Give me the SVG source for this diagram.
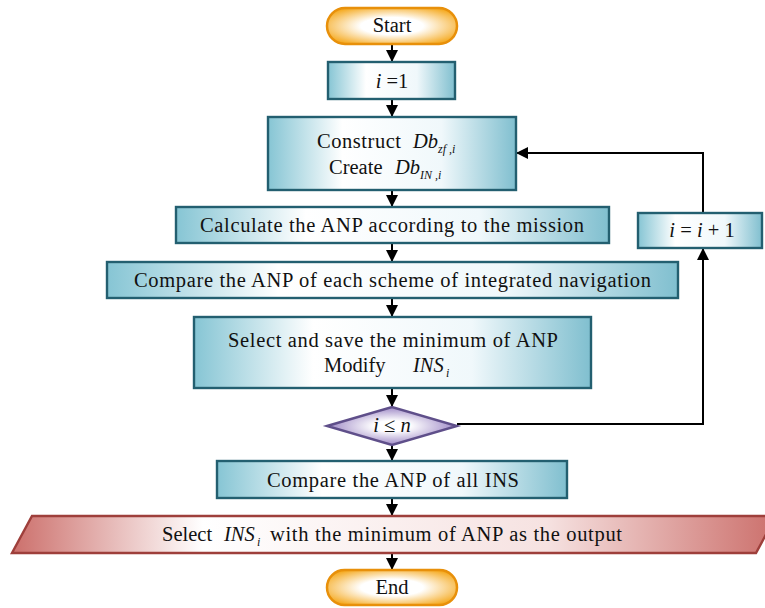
<svg xmlns="http://www.w3.org/2000/svg" width="765" height="608" viewBox="0 0 765 608">
<defs>
<style>
.t{font-family:"Liberation Serif","Times New Roman",serif;font-size:20.5px;fill:#111}
.it{font-style:italic}
.sub{font-size:12px;font-style:italic}
.box{fill:url(#teal);stroke:#235f70;stroke-width:2.4}
.term{fill:url(#orange);stroke:#e8900a;stroke-width:2.5}
.dia{fill:url(#purple);stroke:#5f4f8a;stroke-width:2.4}
.para{fill:url(#red);stroke:#9e3f3b;stroke-width:2.4}
.c{fill:none;stroke:#000;stroke-width:2;marker-end:url(#ah)}
</style>
<linearGradient id="teal" x1="0" y1="0" x2="1" y2="0">
<stop offset="0" stop-color="#86c5d4"/>
<stop offset="0.3" stop-color="#ffffff"/>
<stop offset="0.7" stop-color="#f0f8fb"/>
<stop offset="1" stop-color="#80bfcf"/>
</linearGradient>
<radialGradient id="orange" cx="0.5" cy="0.5" r="0.6">
<stop offset="0.4" stop-color="#ffffff"/>
<stop offset="1" stop-color="#f5a91e"/>
</radialGradient>
<radialGradient id="purple" cx="0.5" cy="0.5" r="0.55">
<stop offset="0.25" stop-color="#ffffff"/>
<stop offset="1" stop-color="#9078be"/>
</radialGradient>
<linearGradient id="red" x1="0" y1="0" x2="1" y2="0">
<stop offset="0" stop-color="#cc6f6b"/>
<stop offset="0.25" stop-color="#ffffff"/>
<stop offset="0.7" stop-color="#f6e2e1"/>
<stop offset="1" stop-color="#cc706c"/>
</linearGradient>
<marker id="ah" viewBox="0 0 10 10" refX="10" refY="5" markerUnits="userSpaceOnUse" markerWidth="12" markerHeight="12" orient="auto">
<path d="M0,0 L10,5 L0,10 z" fill="#000"/>
</marker>
</defs>
<rect width="765" height="608" fill="#ffffff"/>

<g id="connectors">
<line class="c" x1="392" y1="44" x2="392" y2="62"/>
<line class="c" x1="392" y1="99" x2="392" y2="117"/>
<line class="c" x1="392" y1="190" x2="392" y2="207"/>
<line class="c" x1="392" y1="243" x2="392" y2="262"/>
<line class="c" x1="392" y1="298" x2="392" y2="317"/>
<line class="c" x1="392" y1="388" x2="392" y2="407"/>
<line class="c" x1="392" y1="445" x2="392" y2="461"/>
<line class="c" x1="392" y1="498" x2="392" y2="516"/>
<line class="c" x1="392" y1="553" x2="392" y2="570"/>
<polyline class="c" points="457,424 703,424 703,248"/>
<polyline class="c" points="703,213 703,153 516,153"/>
</g>

<g id="start">
<rect class="term" x="327" y="8" width="130" height="36" rx="18"/>
<text class="t" x="392" y="32" text-anchor="middle">Start</text>
</g>

<g id="init">
<rect class="box" x="328" y="62" width="127" height="37"/>
<text class="t" x="392" y="88" text-anchor="middle"><tspan class="it">i</tspan> =1</text>
</g>

<g id="construct">
<rect class="box" x="268" y="117" width="248" height="73"/>
<text class="t" x="317" y="148" textLength="84" lengthAdjust="spacing">Construct</text>
<text class="t it" x="413" y="148">Db</text>
<text class="t sub" x="438" y="153">zf ,i</text>
<text class="t" x="329" y="174">Create</text>
<text class="t it" x="395" y="174">Db</text>
<text class="t sub" x="420" y="179">IN ,i</text>
</g>

<g id="calculate">
<rect class="box" x="176" y="207" width="433" height="36"/>
<text class="t" x="200" y="232" textLength="384" lengthAdjust="spacing">Calculate the ANP according to the mission</text>
</g>

<g id="compare">
<rect class="box" x="107" y="262" width="571" height="36"/>
<text class="t" x="134" y="287" textLength="517" lengthAdjust="spacing">Compare the ANP of each scheme of integrated navigation</text>
</g>

<g id="select-save">
<rect class="box" x="194" y="317" width="397" height="71"/>
<text class="t" x="228" y="347" textLength="330" lengthAdjust="spacing">Select and save the minimum of ANP</text>
<text class="t" x="324" y="372">Modify</text>
<text class="t it" x="413" y="372">INS</text>
<text class="t sub" x="446" y="377">i</text>
</g>

<g id="decision">
<polygon class="dia" points="327,426 392,407 457,426 392,445"/>
<text class="t" x="392" y="432" text-anchor="middle"><tspan class="it">i</tspan> ≤ <tspan class="it">n</tspan></text>
</g>

<g id="increment">
<rect class="box" x="638" y="213" width="124" height="35"/>
<text class="t" x="702" y="237" text-anchor="middle" font-size="18"><tspan class="it">i</tspan> = <tspan class="it">i</tspan> + 1</text>
</g>

<g id="compare-all">
<rect class="box" x="217" y="461" width="350" height="37"/>
<text class="t" x="267" y="487" textLength="252" lengthAdjust="spacing">Compare the ANP of all INS</text>
</g>

<g id="output">
<polygon class="para" points="32,516 776,516 756,553 12,553"/>
<text class="t" x="162" y="541">Select</text>
<text class="t it" x="224" y="541">INS</text>
<text class="t sub" x="257" y="546">i</text>
<text class="t" x="270" y="541" textLength="352" lengthAdjust="spacing">with the minimum of ANP as the output</text>
</g>

<g id="end">
<rect class="term" x="327" y="570" width="130" height="35" rx="17.5"/>
<text class="t" x="392" y="594" text-anchor="middle">End</text>
</g>
</svg>
